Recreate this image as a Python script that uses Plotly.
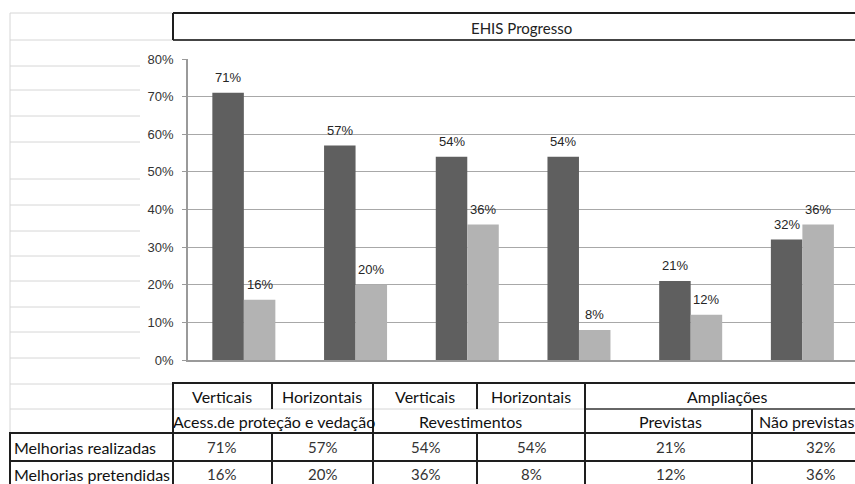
import plotly.graph_objects as go

# --- data -------------------------------------------------------------
categories = ["Verticais", "Horizontais", "Verticais", "Horizontais", "Previstas", "Não previstas"]
groups = ["Acess.de proteção e vedação", "Revestimentos", "Ampliações"]
series_names = ["Melhorias realizadas", "Melhorias pretendidas"]
realizadas = [71, 57, 54, 54, 21, 32]
pretendidas = [16, 20, 36, 8, 12, 36]
y_ticks = [0, 10, 20, 30, 40, 50, 60, 70, 80]
title_text = "EHIS Progresso"

# --- page geometry helpers (pixel -> paper) ----------------------------
W, H = 855, 484


def px(x):
    return x / W


def py(y):
    return 1 - y / H


DARK = "#5f5f5f"
LIGHT = "#b3b3b3"
BAR_W = 0.282
idx = list(range(len(categories)))

fig = go.Figure()
fig.add_trace(go.Bar(x=idx, y=realizadas, name=series_names[0], width=BAR_W,
                     offset=-BAR_W, marker=dict(color=DARK, line=dict(width=0))))
fig.add_trace(go.Bar(x=idx, y=pretendidas, name=series_names[1], width=BAR_W,
                     offset=0, marker=dict(color=LIGHT, line=dict(width=0))))

annotations = []
label_font = dict(family="Liberation Sans, Arial", size=13, color="#262626")
for i, v in enumerate(realizadas):
    annotations.append(dict(x=i - BAR_W / 2, y=v, xref="x", yref="y", text=f"{v}%",
                            showarrow=False, xanchor="center", yanchor="middle",
                            yshift=15, font=label_font))
for i, v in enumerate(pretendidas):
    annotations.append(dict(x=i + BAR_W / 2, y=v, xref="x", yref="y", text=f"{v}%",
                            showarrow=False, xanchor="center", yanchor="middle",
                            yshift=15, font=label_font))


def page_text(x, y, text, font, xanchor="center"):
    annotations.append(dict(x=px(x), y=py(y), xref="paper", yref="paper", text=text,
                            showarrow=False, xanchor=xanchor, yanchor="middle", font=font))


# chart title inside its header box
page_text(521, 28, title_text, dict(family="Lato", size=15, color="#222"))

# --- data table under the chart ------------------------------------------
tf = dict(family="Lato", size=16, color="#111")
vf = dict(family="Lato", size=15, color="#333")
row1_y, row2_y, row3_y, row4_y = 396, 421, 447, 474
head_x = [222, 322, 425, 531]
for x, t in zip(head_x, categories[:4]):
    page_text(x, row1_y, t, tf)
page_text(727, row1_y, groups[2], tf)
page_text(274, row2_y, groups[0], tf)
page_text(470, row2_y, groups[1], tf)
page_text(670, row2_y, categories[4], tf)
page_text(757, row2_y, categories[5], tf, xanchor="left")
for yy, name in zip([row3_y, row4_y], series_names):
    page_text(12, yy, name, tf, xanchor="left")
val_x = [222, 322, 425, 531, 670, 820]
for yy, vals in zip([row3_y, row4_y], [realizadas, pretendidas]):
    for x, v in zip(val_x, vals):
        page_text(x, yy, f"{v}%", vf)

shapes = []


def hline(y, x0, x1, color, width):
    shapes.append(dict(type="line", xref="paper", yref="paper", x0=px(x0), x1=px(x1),
                       y0=py(y), y1=py(y), line=dict(color=color, width=width)))


def vline(x, y0, y1, color, width):
    shapes.append(dict(type="line", xref="paper", yref="paper", x0=px(x), x1=px(x),
                       y0=py(y0), y1=py(y1), line=dict(color=color, width=width)))


# spreadsheet gridlines to the left of the chart
GRID = "#d6d6d6"
for y in [13, 40, 384]:
    hline(y, 10, 173, GRID, 1)
hline(409, 10, 585, GRID, 1)
for y in [66, 90, 116, 142, 179, 205, 231, 256, 281, 307, 332, 358]:
    hline(y, 10, 140, GRID, 1)
vline(10, 13, 433, GRID, 1)

# header box with the title
BORDER = "#1e1e1e"
hline(13, 173, 855, BORDER, 2)
hline(40, 173, 855, "#444", 2)
vline(173, 13, 40, BORDER, 2)

# table borders
hline(383, 172, 855, BORDER, 2)
hline(409, 585, 855, "#333", 1.5)
hline(433, 9, 855, BORDER, 2)
hline(461, 9, 855, BORDER, 2)
vline(10, 433, 484, BORDER, 2)
vline(173, 383, 484, BORDER, 2)
vline(272, 383, 409, BORDER, 2)
vline(272, 433, 484, BORDER, 2)
vline(373, 383, 484, BORDER, 2)
vline(477, 383, 409, BORDER, 2)
vline(477, 433, 484, BORDER, 2)
vline(585, 383, 484, BORDER, 2)
vline(752, 409, 484, BORDER, 2)

fig.update_layout(
    width=W, height=H,
    margin=dict(l=0, r=0, t=0, b=0, pad=0, autoexpand=False),
    paper_bgcolor="white", plot_bgcolor="white",
    barmode="overlay",
    showlegend=False,
    annotations=annotations,
    shapes=shapes,
    xaxis=dict(domain=[px(188), 1], range=[-0.5, 5.471], showticklabels=False,
               showgrid=False, zeroline=False, ticks="", automargin=False,
               showline=True, linecolor="#9a9a9a", linewidth=1.5),
    yaxis=dict(domain=[py(360), py(59)], range=[0, 80], tickmode="array",
               tickvals=y_ticks, ticktext=[f"{v}%" for v in y_ticks], automargin=False,
               showgrid=True, gridcolor="#a8a8a8", gridwidth=1.3,
               zeroline=False, showline=True, linecolor="#9a9a9a", linewidth=1.5,
               ticks="outside", ticklen=4, tickcolor="#9a9a9a", ticklabelstandoff=6,
               tickfont=dict(family="Liberation Sans, Arial", size=13, color="#333")),
)

fig.write_html("out.html", post_script="document.body.style.margin='0';")
